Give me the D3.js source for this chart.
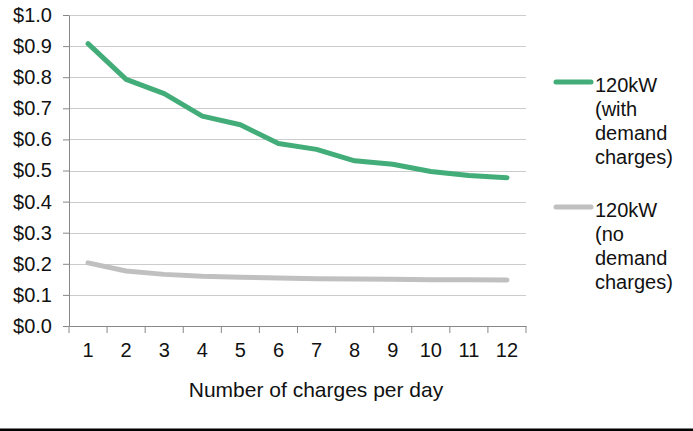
<!DOCTYPE html>
<html>
<head>
<meta charset="utf-8">
<script src="https://cdn.jsdelivr.net/npm/d3@7"></script>
<style>
  body { margin: 0; background: #fff; }
  text { font-family: "Liberation Sans", Arial, sans-serif; fill: #111; }
</style>
</head>
<body>
<script>
// Data
var chargesPerDay = [1, 2, 3, 4, 5, 6, 7, 8, 9, 10, 11, 12];
var withDemand = [0.908, 0.793, 0.747, 0.675, 0.647, 0.587, 0.568, 0.531, 0.520, 0.497, 0.484, 0.477];
var noDemand = [0.203, 0.177, 0.166, 0.160, 0.157, 0.154, 0.152, 0.151, 0.150, 0.149, 0.149, 0.148];
var yTicks = [0, 0.1, 0.2, 0.3, 0.4, 0.5, 0.6, 0.7, 0.8, 0.9, 1.0];
var seriesNames = [["120kW", "(with", "demand", "charges)"], ["120kW", "(no", "demand", "charges)"]];
var seriesColors = ["#42ad78", "#c0c0c0"];

// Chart parameters
var svgWidth = 693;
var svgHeight = 431;
var margin = { top: 15, right: 167, bottom: 105, left: 69 };
var width = svgWidth - margin.left - margin.right;
var height = svgHeight - margin.top - margin.bottom;

var svg = d3.select("body")
            .append("svg")
            .attr("width", svgWidth)
            .attr("height", svgHeight);

var chartGroup = svg.append("g")
                    .attr("transform", `translate(${margin.left}, ${margin.top})`);

// Scales
var xScale = d3.scaleBand().domain(chargesPerDay).range([0, width]);
var yScale = d3.scaleLinear().domain([0, 1]).range([height, 0]);

// Gridlines
chartGroup.selectAll(".grid")
          .data(yTicks.slice(1))
          .enter()
          .append("line")
          .attr("x1", 0)
          .attr("x2", width)
          .attr("y1", d => Math.round(yScale(d)) + 0.5)
          .attr("y2", d => Math.round(yScale(d)) + 0.5)
          .attr("stroke", "#cccccc")
          .attr("stroke-width", 1);

// Axes
var leftAxis = d3.axisLeft(yScale)
                 .tickValues(yTicks)
                 .tickFormat(d => "$" + d3.format(".1f")(d))
                 .tickSizeInner(6)
                 .tickSizeOuter(0)
                 .tickPadding(11);

var yAxisG = chartGroup.append("g").call(leftAxis);

var bottomAxis = d3.axisBottom(xScale).tickSize(0).tickPadding(17);
var xAxisG = chartGroup.append("g")
                       .attr("transform", `translate(0, ${height})`)
                       .call(bottomAxis);

// x tick marks sit on the band edges
xAxisG.selectAll(".edge")
      .data(chargesPerDay.concat([null]))
      .enter()
      .append("line")
      .attr("x1", (d, i) => i * xScale.step())
      .attr("x2", (d, i) => i * xScale.step())
      .attr("y1", 0)
      .attr("y2", 7)
      .attr("stroke", "#888");

[yAxisG, xAxisG].forEach(function(g) {
  g.select(".domain").attr("stroke", "#888");
  g.selectAll(".tick line").attr("stroke", "#888");
  g.selectAll("text")
   .style("font-family", "Liberation Sans, Arial, sans-serif")
   .style("font-size", "20px")
   .attr("fill", "#111");
});

// Lines
var line = d3.line()
             .x((d, i) => xScale(chargesPerDay[i]) + xScale.bandwidth() / 2)
             .y(d => yScale(d));

[withDemand, noDemand].forEach(function(values, i) {
  chartGroup.append("path")
            .datum(values)
            .attr("d", line)
            .attr("fill", "none")
            .attr("stroke", seriesColors[i])
            .attr("stroke-width", 5)
            .attr("stroke-linecap", "round")
            .attr("stroke-linejoin", "round");
});

// Axis title
svg.append("text")
   .attr("x", 316)
   .attr("y", 397)
   .attr("text-anchor", "middle")
   .style("font-size", "21px")
   .text("Number of charges per day");

// Legend
var legendTop = [82, 207];
seriesNames.forEach(function(lines, i) {
  var g = svg.append("g").attr("transform", `translate(0, ${legendTop[i]})`);
  g.append("line")
   .attr("x1", 556).attr("x2", 591)
   .attr("y1", 0).attr("y2", 0)
   .attr("stroke", seriesColors[i])
   .attr("stroke-width", 5)
   .attr("stroke-linecap", "round");
  g.selectAll("text")
   .data(lines)
   .enter()
   .append("text")
   .attr("x", 595)
   .attr("y", (d, j) => 9.5 + j * 24)
   .style("font-size", "20px")
   .text(d => d);
});

// Bottom rule
svg.append("rect")
   .attr("x", 0)
   .attr("y", 428.5)
   .attr("width", svgWidth)
   .attr("height", 2.5)
   .attr("fill", "#000");
</script>
</body>
</html>
